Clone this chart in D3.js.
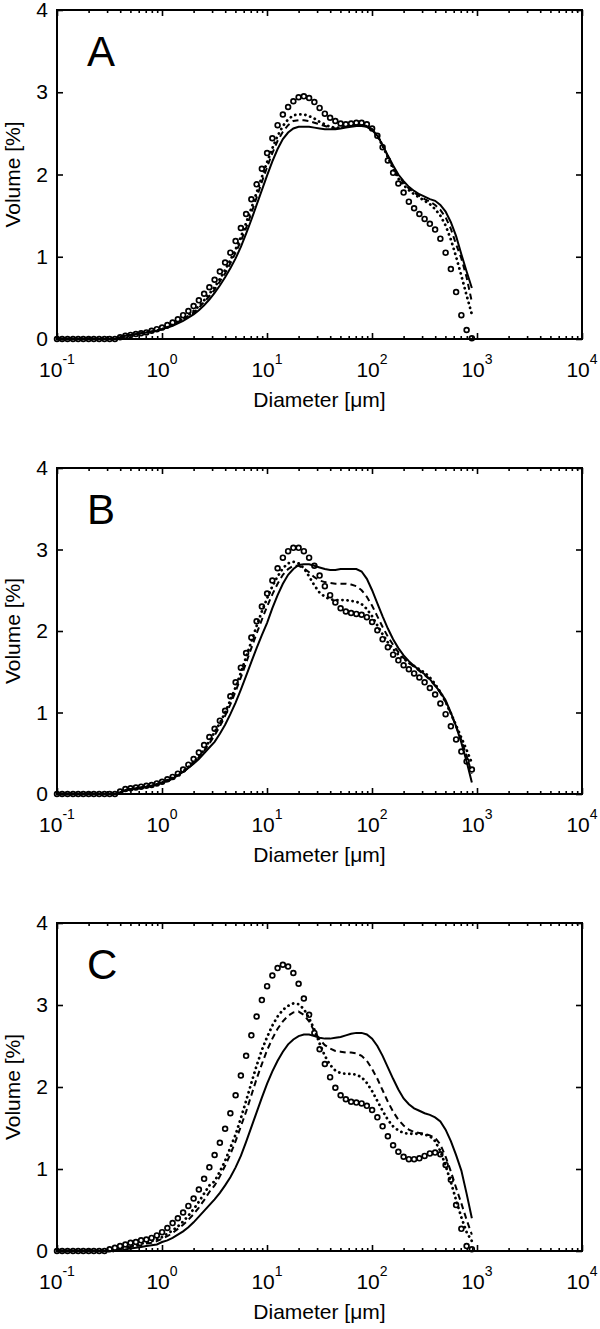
<!DOCTYPE html>
<html>
<head>
<meta charset="utf-8">
<script src="https://cdn.jsdelivr.net/npm/d3@7"></script>
<style>
  body { margin: 0; background: #fff; }
  text { font-family: "Liberation Sans", Arial, sans-serif; fill: #000; }
</style>
</head>
<body>
<svg id="chart" width="600" height="1329"></svg>
<script>
// particle size classes [um] (laser diffraction bins)
const diameter = [0.1, 0.112, 0.126, 0.142, 0.159, 0.178, 0.2, 0.224, 0.252, 0.283,
  0.317, 0.356, 0.399, 0.448, 0.502, 0.564, 0.632, 0.71, 0.796, 0.893,
  1.002, 1.125, 1.262, 1.416, 1.589, 1.783, 2.0, 2.244, 2.518, 2.825,
  3.17, 3.557, 3.991, 4.477, 5.024, 5.637, 6.325, 7.096, 7.962, 8.934,
  10.024, 11.247, 12.619, 14.159, 15.887, 17.825, 20.0, 22.44, 25.179, 28.251,
  31.698, 35.566, 39.905, 44.774, 50.238, 56.368, 63.246, 70.963, 79.621, 89.337,
  100.237, 112.468, 126.191, 141.589, 158.866, 178.25, 200.0, 224.404, 251.785, 282.508,
  316.979, 355.656, 399.052, 447.744, 502.377, 563.677, 632.456, 709.627, 796.214, 893.367]

const yTicks = [0, 1, 2, 3, 4]
const xDecades = [-1, 0, 1, 2, 3, 4]
const panelLabels = ['A', 'B', 'C']

// panel A  (volume %)
const circlesA = [0,0,0,0,0,0,0,0,0,0, 0,0,0.02,0.04,0.05,0.06,0.07,0.08,0.10,0.12,
  0.14,0.17,0.20,0.24,0.29,0.34,0.40,0.47,0.55,0.63, 0.72,0.82,0.93,1.05,1.19,1.35,1.52,1.70,1.88,2.07,
  2.26,2.44,2.60,2.73,2.82,2.89,2.94,2.95,2.93,2.88, 2.81,2.74,2.69,2.65,2.62,2.61,2.62,2.63,2.63,2.61,
  2.56,2.47,2.33,2.17,2.02,1.89,1.78,1.67,1.59,1.52, 1.46,1.40,1.33,1.22,1.05,0.85,0.57,0.29,0.11,0.01]
const dottedA = [0,0,0,0,0,0,0,0,0,0, 0,0,0.02,0.04,0.05,0.06,0.07,0.08,0.09,0.10,
  0.12,0.14,0.17,0.21,0.25,0.29,0.34,0.40,0.47,0.55, 0.63,0.73,0.84,0.96,1.09,1.24,1.41,1.59,1.78,1.97,
  2.15,2.32,2.47,2.59,2.67,2.72,2.73,2.73,2.71,2.68, 2.64,2.61,2.58,2.57,2.57,2.58,2.59,2.60,2.60,2.59,
  2.55,2.47,2.35,2.21,2.07,1.95,1.87,1.81,1.76,1.72, 1.68,1.64,1.58,1.50,1.38,1.21,1.00,0.77,0.53,0.30]
const dashedA = [0,0,0,0,0,0,0,0,0,0, 0,0,0.02,0.04,0.05,0.06,0.07,0.08,0.09,0.10,
  0.12,0.14,0.17,0.20,0.24,0.28,0.32,0.38,0.45,0.52, 0.60,0.70,0.80,0.92,1.05,1.19,1.35,1.53,1.72,1.91,
  2.09,2.26,2.41,2.52,2.60,2.65,2.66,2.66,2.65,2.63, 2.61,2.59,2.57,2.56,2.57,2.58,2.59,2.60,2.60,2.59,
  2.55,2.48,2.36,2.22,2.09,1.98,1.90,1.83,1.78,1.74, 1.70,1.67,1.63,1.57,1.48,1.34,1.15,0.98,0.75,0.45]
const solidA = [0,0,0,0,0,0,0,0,0,0, 0,0,0.02,0.04,0.05,0.06,0.07,0.08,0.09,0.10,
  0.12,0.14,0.16,0.19,0.22,0.26,0.30,0.35,0.41,0.48, 0.56,0.65,0.75,0.86,0.98,1.12,1.28,1.45,1.63,1.81,
  1.99,2.16,2.31,2.43,2.51,2.56,2.58,2.58,2.58,2.57, 2.56,2.55,2.55,2.55,2.56,2.57,2.58,2.59,2.59,2.58,
  2.54,2.47,2.36,2.23,2.11,2.00,1.92,1.85,1.80,1.76, 1.73,1.70,1.68,1.63,1.55,1.42,1.25,1.03,0.82,0.62]

// panel B
const circlesB = [0,0,0,0,0,0,0,0,0,0, 0,0,0.03,0.06,0.07,0.08,0.09,0.10,0.11,0.13,
  0.15,0.18,0.21,0.25,0.30,0.36,0.43,0.51,0.60,0.70, 0.80,0.90,1.02,1.20,1.37,1.55,1.73,1.92,2.12,2.30,
  2.46,2.62,2.77,2.90,2.98,3.02,3.02,2.98,2.90,2.80, 2.68,2.55,2.44,2.35,2.28,2.24,2.22,2.21,2.20,2.17,
  2.11,2.01,1.90,1.80,1.71,1.64,1.58,1.53,1.48,1.43, 1.37,1.30,1.22,1.11,0.98,0.83,0.67,0.52,0.40,0.30]
const dottedB = [0,0,0,0,0,0,0,0,0,0, 0,0,0.02,0.05,0.06,0.07,0.08,0.09,0.10,0.12,
  0.14,0.17,0.20,0.24,0.28,0.33,0.39,0.46,0.54,0.65, 0.76,0.87,1.00,1.15,1.31,1.49,1.68,1.87,2.06,2.24,
  2.40,2.55,2.67,2.77,2.83,2.85,2.83,2.77,2.67,2.56, 2.47,2.42,2.39,2.38,2.38,2.38,2.37,2.36,2.33,2.27,
  2.18,2.07,1.96,1.86,1.78,1.71,1.66,1.61,1.57,1.53, 1.49,1.43,1.35,1.25,1.13,0.99,0.84,0.69,0.54,0.38]
const dashedB = [0,0,0,0,0,0,0,0,0,0, 0,0,0.02,0.05,0.06,0.07,0.08,0.09,0.10,0.12,
  0.14,0.16,0.19,0.23,0.27,0.32,0.38,0.45,0.53,0.62, 0.72,0.83,0.96,1.10,1.26,1.43,1.61,1.79,1.97,2.14,
  2.30,2.45,2.58,2.69,2.76,2.80,2.80,2.77,2.72,2.66, 2.62,2.60,2.59,2.58,2.58,2.58,2.57,2.55,2.50,2.42,
  2.31,2.18,2.05,1.93,1.83,1.74,1.67,1.61,1.56,1.51, 1.46,1.40,1.33,1.24,1.13,0.99,0.83,0.66,0.47,0.25]
const solidB = [0,0,0,0,0,0,0,0,0,0, 0,0,0.02,0.05,0.06,0.07,0.08,0.09,0.10,0.12,
  0.14,0.16,0.19,0.23,0.27,0.32,0.37,0.43,0.50,0.57, 0.64,0.74,0.85,0.98,1.12,1.28,1.45,1.62,1.79,1.95,
  2.10,2.28,2.44,2.58,2.69,2.76,2.81,2.82,2.82,2.80, 2.78,2.76,2.75,2.75,2.76,2.76,2.76,2.76,2.73,2.64,
  2.50,2.34,2.18,2.03,1.90,1.79,1.70,1.63,1.57,1.52, 1.47,1.41,1.33,1.25,1.15,1.00,0.83,0.63,0.40,0.14]

// panel C
const circlesC = [0,0,0,0,0,0,0,0,0,0, 0.02,0.04,0.06,0.08,0.10,0.11,0.13,0.14,0.16,0.19,
  0.23,0.28,0.34,0.40,0.47,0.55,0.64,0.75,0.88,1.02, 1.17,1.32,1.49,1.68,1.90,2.14,2.38,2.63,2.86,3.06,
  3.23,3.36,3.45,3.49,3.47,3.39,3.26,3.08,2.88,2.66, 2.46,2.28,2.12,1.99,1.90,1.85,1.82,1.81,1.80,1.77,
  1.72,1.63,1.52,1.40,1.29,1.21,1.15,1.12,1.12,1.13, 1.16,1.19,1.20,1.18,1.05,0.87,0.56,0.27,0.06,0.02]
const dottedC = [0,0,0,0,0,0,0,0,0,0, 0,0,0.03,0.05,0.06,0.07,0.09,0.10,0.12,0.14,
  0.17,0.21,0.25,0.30,0.36,0.43,0.51,0.60,0.70,0.80, 0.85,0.97,1.10,1.26,1.42,1.62,1.83,2.05,2.26,2.45,
  2.61,2.75,2.86,2.94,2.99,3.02,3.01,2.95,2.84,2.70, 2.53,2.38,2.27,2.20,2.17,2.16,2.16,2.15,2.12,2.05,
  1.95,1.83,1.71,1.60,1.52,1.47,1.44,1.43,1.43,1.43, 1.42,1.40,1.34,1.22,1.04,0.84,0.62,0.41,0.23,0.12]
const dashedC = [0,0,0,0,0,0,0,0,0,0, 0,0,0.02,0.04,0.05,0.06,0.07,0.09,0.10,0.12,
  0.15,0.18,0.22,0.27,0.32,0.38,0.45,0.53,0.62,0.72, 0.80,0.91,1.04,1.18,1.34,1.52,1.70,1.90,2.10,2.28,
  2.45,2.59,2.71,2.80,2.87,2.91,2.92,2.88,2.80,2.68, 2.58,2.51,2.47,2.44,2.43,2.42,2.42,2.41,2.38,2.32,
  2.22,2.10,1.96,1.82,1.70,1.60,1.53,1.48,1.45,1.44, 1.43,1.41,1.38,1.30,1.15,0.97,0.77,0.58,0.38,0.20]
const solidC = [0,0,0,0,0,0,0,0,0,0, 0,0,0,0.02,0.03,0.04,0.05,0.06,0.07,0.08,
  0.11,0.13,0.16,0.20,0.24,0.29,0.35,0.42,0.49,0.56, 0.63,0.71,0.80,0.90,1.02,1.16,1.33,1.51,1.69,1.87,
  2.04,2.19,2.32,2.43,2.52,2.58,2.62,2.64,2.64,2.62, 2.60,2.59,2.59,2.60,2.61,2.63,2.65,2.66,2.66,2.64,
  2.59,2.50,2.38,2.24,2.10,1.97,1.86,1.79,1.74,1.71, 1.68,1.66,1.63,1.58,1.48,1.34,1.17,0.98,0.70,0.40]

const seriesByPanel = [
  { circles: circlesA, dotted: dottedA, dashed: dashedA, solid: solidA },
  { circles: circlesB, dotted: dottedB, dashed: dashedB, solid: solidB },
  { circles: circlesC, dotted: dottedC, dashed: dashedC, solid: solidC }
]

// layout of the three stacked axes
const plotLeft = 57
const plotRight = 582
const panelBoxes = [
  { top: 10, bottom: 339 },
  { top: 468, bottom: 794 },
  { top: 923, bottom: 1251 }
]

const svg = d3.select('#chart')

// minor ticks of a log axis: 2..9 x each decade
const minorTicks = []
xDecades.slice(0, -1).forEach(e => {
  for (let m = 2; m <= 9; m++) minorTicks.push(m * Math.pow(10, e))
})

panelBoxes.forEach((box, p) => {
  const g = svg.append('g')
  const s = seriesByPanel[p]

  const x = d3.scaleLog().domain([0.1, 1e4]).range([plotLeft, plotRight])
  const y = d3.scaleLinear().domain([0, 4]).range([box.bottom, box.top])
  const h = box.bottom - box.top

  // inward ticks on all four sides, matlab style
  const decadeVals = xDecades.map(e => Math.pow(10, e))
  g.append('g').attr('transform', `translate(0,${box.bottom})`)
    .call(d3.axisBottom(x).tickValues(decadeVals).tickSize(-6).tickFormat(''))
  g.append('g').attr('transform', `translate(0,${box.bottom})`)
    .call(d3.axisBottom(x).tickValues(minorTicks).tickSize(-3).tickFormat(''))
  g.append('g').attr('transform', `translate(0,${box.top})`)
    .call(d3.axisTop(x).tickValues(decadeVals).tickSize(-6).tickFormat(''))
  g.append('g').attr('transform', `translate(0,${box.top})`)
    .call(d3.axisTop(x).tickValues(minorTicks).tickSize(-3).tickFormat(''))
  g.append('g').attr('transform', `translate(${plotLeft},0)`)
    .call(d3.axisLeft(y).tickValues(yTicks).tickSize(-6).tickPadding(9).tickFormat(d3.format('d')))
  g.append('g').attr('transform', `translate(${plotRight},0)`)
    .call(d3.axisRight(y).tickValues(yTicks).tickSize(-6).tickFormat(''))

  g.selectAll('path.domain').remove()
  g.selectAll('.tick line').attr('stroke', '#000').attr('stroke-width', 1.6)
  g.selectAll('.tick text')
    .attr('font-family', '"Liberation Sans", Arial, sans-serif')
    .attr('font-size', 21)
    .attr('fill', '#000')

  // x tick labels 10^n
  const xl = g.selectAll('text.xlab')
    .data(xDecades)
    .enter()
    .append('text')
    .attr('class', 'xlab')
    .attr('x', d => x(Math.pow(10, d)))
    .attr('y', box.bottom + 38)
    .attr('text-anchor', 'middle')
    .style('font-size', '21px')
  xl.append('tspan').text('10')
  xl.append('tspan')
    .attr('dy', -13)
    .style('font-size', '14px')
    .text(d => String(d))

  // curves
  const line = d3.line()
    .x((v, i) => x(diameter[i]))
    .y(v => y(v))

  g.append('path')
    .attr('d', line(s.solid))
    .attr('fill', 'none')
    .attr('stroke', '#000')
    .attr('stroke-width', 2)

  g.append('path')
    .attr('d', line(s.dashed))
    .attr('fill', 'none')
    .attr('stroke', '#000')
    .attr('stroke-width', 2)
    .attr('stroke-dasharray', '6,4')

  g.append('path')
    .attr('d', line(s.dotted))
    .attr('fill', 'none')
    .attr('stroke', '#000')
    .attr('stroke-width', 2.8)
    .attr('stroke-linecap', 'round')
    .attr('stroke-dasharray', '0.1,5')

  g.selectAll('circle')
    .data(s.circles)
    .enter()
    .append('circle')
    .attr('cx', (v, i) => x(diameter[i]))
    .attr('cy', v => y(v))
    .attr('r', 2.4)
    .attr('fill', 'none')
    .attr('stroke', '#000')
    .attr('stroke-width', 1.7)

  // frame
  g.append('rect')
    .attr('x', plotLeft)
    .attr('y', box.top)
    .attr('width', plotRight - plotLeft)
    .attr('height', h)
    .attr('fill', 'none')
    .attr('stroke', '#000')
    .attr('stroke-width', 2)

  // panel letter
  g.append('text')
    .attr('x', 87)
    .attr('y', box.top + 56)
    .style('font-size', '42px')
    .text(panelLabels[p])

  // axis titles
  g.append('text')
    .attr('transform', `translate(20,${(box.top + box.bottom) / 2}) rotate(-90)`)
    .attr('text-anchor', 'middle')
    .style('font-size', '21px')
    .text('Volume [%]')

  g.append('text')
    .attr('x', (plotLeft + plotRight) / 2)
    .attr('y', box.bottom + 68)
    .attr('text-anchor', 'middle')
    .style('font-size', '21px')
    .text('Diameter [μm]')
})
</script>
</body>
</html>
